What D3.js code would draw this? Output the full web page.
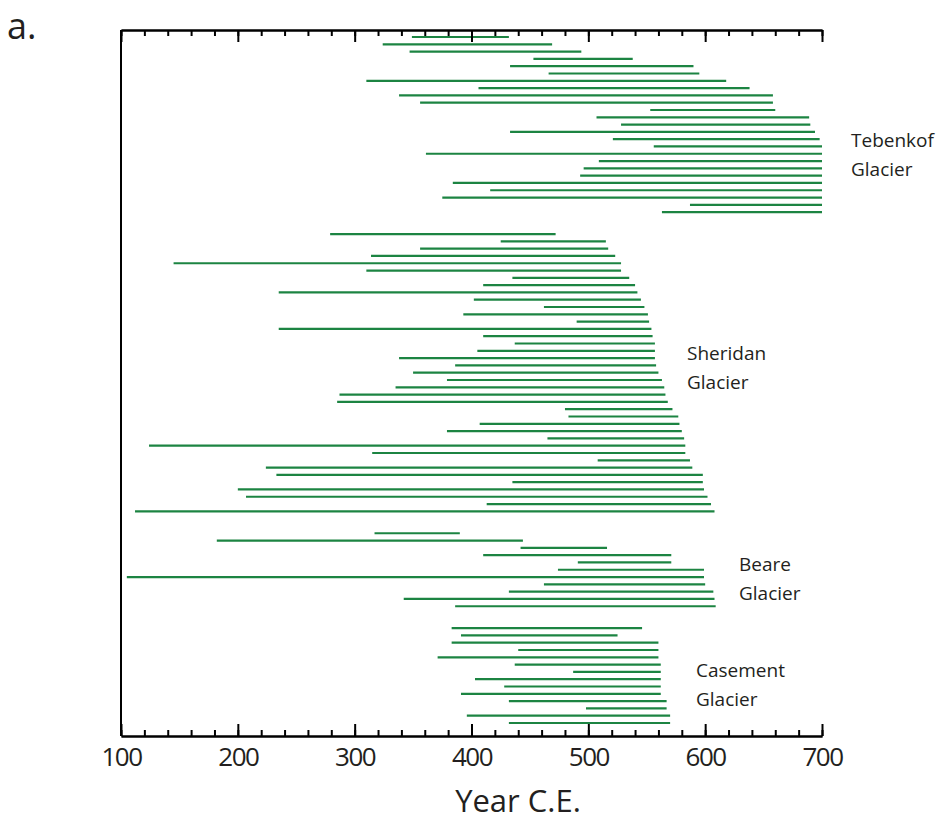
<!DOCTYPE html>
<html>
<head>
<meta charset="utf-8">
<script src="https://cdn.jsdelivr.net/npm/d3@7"></script>
<style>
  body { margin: 0; background: #fff; }
  text { font-family: "Open Sans", "Noto Sans", sans-serif; fill: #231f20; }
</style>
</head>
<body>
<script>
const width = 945;
const height = 821;

// [start, end] year of each range, top to bottom
const tebenkof = [
  [349, 432], [324, 469], [347, 494], [453, 538], [433, 590], [466, 595],
  [310, 618], [406, 638], [338, 658], [356, 658], [553, 660], [507, 689],
  [528, 690], [433, 694], [521, 698], [556, 700], [361, 700], [509, 700],
  [496, 700], [493, 700], [384, 700], [416, 700], [375, 700], [587, 700],
  [563, 700]
];
const sheridan = [
  [279, 472], [425, 515], [356, 517], [314, 523], [145, 528], [310, 528],
  [435, 535], [410, 540], [235, 542], [402, 545], [462, 548], [393, 551],
  [490, 552], [235, 554], [410, 555], [437, 557], [405, 557], [338, 557],
  [386, 558], [350, 560], [379, 563], [335, 565], [287, 566], [285, 568],
  [480, 572], [483, 577], [407, 578], [379, 580], [465, 582], [124, 583],
  [315, 583], [508, 587], [224, 589], [233, 598], [435, 598], [200, 599],
  [207, 602], [413, 605], [112, 608]
];
const beare = [
  [317, 390], [182, 444], [442, 516], [410, 571], [491, 571], [474, 599],
  [105, 599], [462, 600], [432, 607], [342, 608], [386, 609]
];
const casement = [
  [383, 546], [391, 525], [383, 560], [440, 560], [371, 560], [437, 562],
  [487, 562], [403, 562], [428, 562], [391, 562], [432, 567], [498, 567],
  [396, 570], [432, 570]
];
const groupNames = ["Tebenkof", "Sheridan", "Beare", "Casement"];
const majorTicks = [100, 200, 300, 400, 500, 600, 700];
const minorTicks = d3.range(100, 701, 20);

const groups = [tebenkof, sheridan, beare, casement];
const gapRows = 2;

// flatten into rows with gaps between glaciers
var rows = [];
var idx = 0;
groups.forEach(function(g, gi) {
  g.forEach(function(d) {
    rows.push({ start: d[0], end: d[1], row: idx, group: gi });
    idx++;
  });
  idx += gapRows;
});
const nRows = idx - gapRows;

const x = d3.scaleLinear().domain([100, 700]).range([121, 822]);
const y = d3.scaleLinear().domain([0, nRows - 1]).range([37, 723]);
const plotTop = 30, plotBottom = 736;

var svg = d3.select("body").append("svg")
  .attr("width", width)
  .attr("height", height);

// ranges
svg.append("g")
  .selectAll("line")
  .data(rows)
  .enter()
  .append("line")
  .attr("x1", d => x(d.start))
  .attr("x2", d => x(d.end))
  .attr("y1", d => y(d.row))
  .attr("y2", d => y(d.row))
  .attr("stroke", "#1c8442")
  .attr("stroke-width", 2.2);

// bottom axis, ticks pointing inside
svg.append("g")
  .attr("transform", "translate(0," + plotBottom + ")")
  .call(d3.axisBottom(x).tickValues(minorTicks).tickSize(-6).tickSizeOuter(0).tickFormat(""));
var bottomMajor = svg.append("g")
  .attr("transform", "translate(0," + plotBottom + ")")
  .call(d3.axisBottom(x).tickValues(majorTicks).tickSize(-12).tickSizeOuter(0).tickPadding(12)
    .tickFormat(d3.format("d")));
bottomMajor.selectAll("text")
  .attr("font-size", 26)
  .attr("font-family", "Open Sans")
  .attr("fill", "#231f20")
  .attr("letter-spacing", -1.5);

// top axis, ticks pointing down
svg.append("g")
  .attr("transform", "translate(0," + plotTop + ")")
  .call(d3.axisTop(x).tickValues(minorTicks).tickSize(-6).tickSizeOuter(0).tickFormat(""));
svg.append("g")
  .attr("transform", "translate(0," + plotTop + ")")
  .call(d3.axisTop(x).tickValues(majorTicks).tickSize(-12).tickSizeOuter(0).tickFormat(""));

svg.selectAll(".domain, .tick line")
  .attr("stroke", "#000")
  .attr("stroke-width", 2);

// left edge
svg.append("line")
  .attr("x1", x(100)).attr("x2", x(100))
  .attr("y1", plotTop).attr("y2", plotBottom)
  .attr("stroke", "#000")
  .attr("stroke-width", 2);

// glacier labels
const labelPos = [[851, 142], [687, 355], [739, 566], [696, 672]];
groupNames.forEach(function(name, i) {
  var t = svg.append("text")
    .attr("x", labelPos[i][0])
    .attr("y", labelPos[i][1])
    .attr("font-size", 19)
    .attr("dominant-baseline", "middle");
  t.append("tspan").attr("x", labelPos[i][0]).text(name);
  t.append("tspan").attr("x", labelPos[i][0]).attr("dy", 29).text("Glacier");
});

svg.append("text")
  .attr("x", 518)
  .attr("y", 812)
  .attr("text-anchor", "middle")
  .attr("font-size", 31)
  .text("Year C.E.");

svg.append("text")
  .attr("x", 7)
  .attr("y", 39)
  .attr("font-size", 36)
  .text("a.");
</script>
</body>
</html>
